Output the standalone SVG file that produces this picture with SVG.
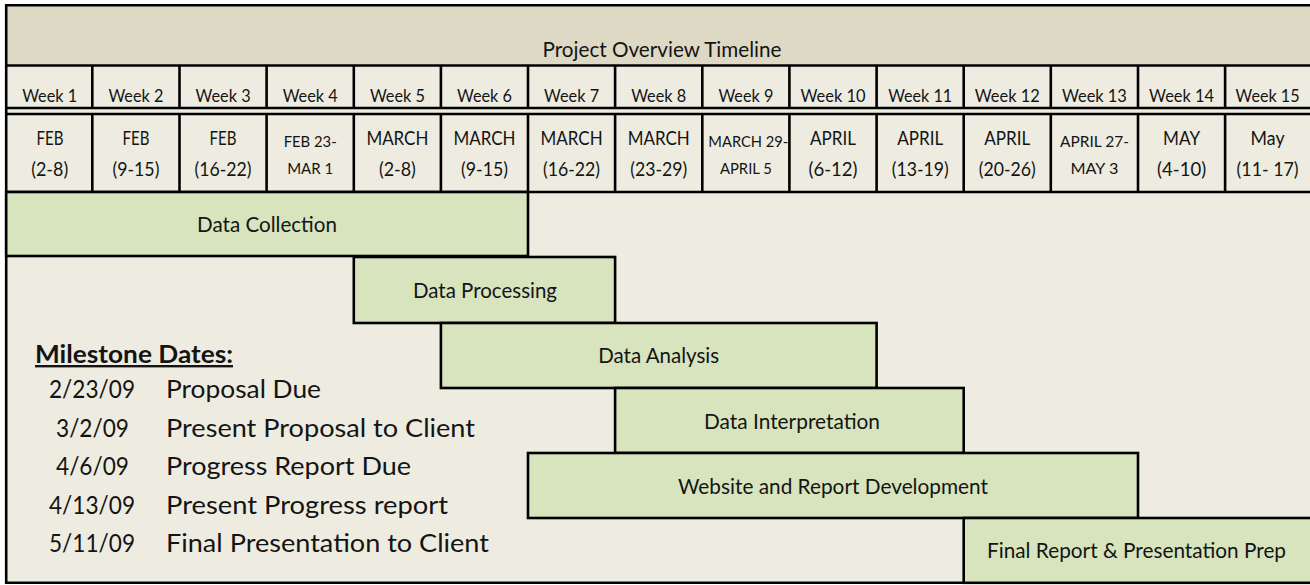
<svg xmlns="http://www.w3.org/2000/svg" width="1310" height="585" viewBox="0 0 1310 585">
<style>
.bg{fill:#EEECE1}
.hdr{fill:#DDD9C4}
.bar{fill:#D7E4BD;stroke:#000;stroke-width:2.6}
.ln{stroke:#000;stroke-width:2.6;fill:none}
text{font-family:Lato,"Open Sans","Liberation Sans",sans-serif;fill:#141414}
.c{text-anchor:middle}
.wk{font-size:17.5px}
.dt{font-size:19.5px}
.ds{font-size:16px}
.bt{font-size:22px}
.ms{font-size:24.5px}
</style>
<rect class="bg" x="6" y="5" width="1304" height="578"/>
<g id="header">
<rect class="hdr" x="6" y="5" width="1304" height="60.5"/>
<text class="c" x="662" y="56.5" font-size="21.5" textLength="239" lengthAdjust="spacingAndGlyphs">Project Overview Timeline</text>
</g>
<g id="grid">
<line class="ln" x1="5" y1="5.3" x2="1310" y2="5.3"/>
<line class="ln" x1="6.2" y1="4" x2="6.2" y2="584"/>
<line class="ln" x1="5" y1="582.8" x2="1310" y2="582.8"/>
<line class="ln" x1="6" y1="65.5" x2="1310" y2="65.5"/>
<line class="ln" x1="6" y1="108" x2="1310" y2="108"/>
<line class="ln" x1="6" y1="114" x2="1310" y2="114"/>
<line class="ln" x1="6" y1="192" x2="1310" y2="192"/>
<path class="ln" d="M92.3 65.5V108M179.5 65.5V108M266.6 65.5V108M353.8 65.5V108M440.9 65.5V108M528 65.5V108M615.1 65.5V108M702.3 65.5V108M789.4 65.5V108M876.6 65.5V108M963.7 65.5V108M1050.8 65.5V108M1138 65.5V108M1225.1 65.5V108"/>
<path class="ln" d="M92.3 114V192M179.5 114V192M266.6 114V192M353.8 114V192M440.9 114V192M528 114V192M615.1 114V192M702.3 114V192M789.4 114V192M876.6 114V192M963.7 114V192M1050.8 114V192M1138 114V192M1225.1 114V192"/>
</g>
<g id="weeks" class="wk">
<text class="c" x="49.7" y="101.5" textLength="55" lengthAdjust="spacingAndGlyphs">Week 1</text>
<text class="c" x="135.9" y="101.5" textLength="55" lengthAdjust="spacingAndGlyphs">Week 2</text>
<text class="c" x="223.1" y="101.5" textLength="55" lengthAdjust="spacingAndGlyphs">Week 3</text>
<text class="c" x="310.2" y="101.5" textLength="55" lengthAdjust="spacingAndGlyphs">Week 4</text>
<text class="c" x="397.4" y="101.5" textLength="55" lengthAdjust="spacingAndGlyphs">Week 5</text>
<text class="c" x="484.5" y="101.5" textLength="55" lengthAdjust="spacingAndGlyphs">Week 6</text>
<text class="c" x="571.6" y="101.5" textLength="55" lengthAdjust="spacingAndGlyphs">Week 7</text>
<text class="c" x="658.7" y="101.5" textLength="55" lengthAdjust="spacingAndGlyphs">Week 8</text>
<text class="c" x="745.9" y="101.5" textLength="55" lengthAdjust="spacingAndGlyphs">Week 9</text>
<text class="c" x="833" y="101.5" textLength="65" lengthAdjust="spacingAndGlyphs">Week 10</text>
<text class="c" x="920.2" y="101.5" textLength="64" lengthAdjust="spacingAndGlyphs">Week 11</text>
<text class="c" x="1007.3" y="101.5" textLength="65" lengthAdjust="spacingAndGlyphs">Week 12</text>
<text class="c" x="1094.4" y="101.5" textLength="65" lengthAdjust="spacingAndGlyphs">Week 13</text>
<text class="c" x="1181.6" y="101.5" textLength="65" lengthAdjust="spacingAndGlyphs">Week 14</text>
<text class="c" x="1267.6" y="101.5" textLength="64" lengthAdjust="spacingAndGlyphs">Week 15</text>
</g>
<g id="dates">
<text class="c dt" x="50" y="144.5" textLength="27" lengthAdjust="spacingAndGlyphs">FEB</text><text class="c dt" x="49.7" y="175.5" textLength="37" lengthAdjust="spacingAndGlyphs">(2-8)</text>
<text class="c dt" x="135.9" y="144.5" textLength="27" lengthAdjust="spacingAndGlyphs">FEB</text><text class="c dt" x="135.9" y="175.5" textLength="47" lengthAdjust="spacingAndGlyphs">(9-15)</text>
<text class="c dt" x="223.1" y="144.5" textLength="27" lengthAdjust="spacingAndGlyphs">FEB</text><text class="c dt" x="223.1" y="175.5" textLength="57" lengthAdjust="spacingAndGlyphs">(16-22)</text>
<text class="c ds" x="310.2" y="146.5" textLength="53" lengthAdjust="spacingAndGlyphs">FEB 23-</text><text class="c ds" x="310.2" y="173.5" textLength="46" lengthAdjust="spacingAndGlyphs">MAR 1</text>
<text class="c dt" x="397.4" y="144.5" textLength="62" lengthAdjust="spacingAndGlyphs">MARCH</text><text class="c dt" x="397.4" y="175.5" textLength="37" lengthAdjust="spacingAndGlyphs">(2-8)</text>
<text class="c dt" x="484.5" y="144.5" textLength="62" lengthAdjust="spacingAndGlyphs">MARCH</text><text class="c dt" x="484.5" y="175.5" textLength="47" lengthAdjust="spacingAndGlyphs">(9-15)</text>
<text class="c dt" x="571.6" y="144.5" textLength="62" lengthAdjust="spacingAndGlyphs">MARCH</text><text class="c dt" x="571.6" y="175.5" textLength="57" lengthAdjust="spacingAndGlyphs">(16-22)</text>
<text class="c dt" x="658.7" y="144.5" textLength="62" lengthAdjust="spacingAndGlyphs">MARCH</text><text class="c dt" x="658.7" y="175.5" textLength="57" lengthAdjust="spacingAndGlyphs">(23-29)</text>
<text class="c ds" x="748.3" y="146.5" textLength="80" lengthAdjust="spacingAndGlyphs">MARCH 29-</text><text class="c ds" x="745.9" y="173.5" textLength="52" lengthAdjust="spacingAndGlyphs">APRIL 5</text>
<text class="c dt" x="833" y="144.5" textLength="46" lengthAdjust="spacingAndGlyphs">APRIL</text><text class="c dt" x="833" y="175.5" textLength="49" lengthAdjust="spacingAndGlyphs">(6-12)</text>
<text class="c dt" x="920.2" y="144.5" textLength="46" lengthAdjust="spacingAndGlyphs">APRIL</text><text class="c dt" x="920.2" y="175.5" textLength="57" lengthAdjust="spacingAndGlyphs">(13-19)</text>
<text class="c dt" x="1007.3" y="144.5" textLength="46" lengthAdjust="spacingAndGlyphs">APRIL</text><text class="c dt" x="1007.3" y="175.5" textLength="57" lengthAdjust="spacingAndGlyphs">(20-26)</text>
<text class="c ds" x="1094.4" y="146.5" textLength="69" lengthAdjust="spacingAndGlyphs">APRIL 27-</text><text class="c ds" x="1094.4" y="173.5" textLength="48" lengthAdjust="spacingAndGlyphs">MAY 3</text>
<text class="c dt" x="1181.6" y="144.5" textLength="37" lengthAdjust="spacingAndGlyphs">MAY</text><text class="c dt" x="1181.6" y="175.5" textLength="49" lengthAdjust="spacingAndGlyphs">(4-10)</text>
<text class="c dt" x="1267.6" y="144.5" textLength="34" lengthAdjust="spacingAndGlyphs">May</text><text class="c dt" x="1267.6" y="175.5" textLength="62" lengthAdjust="spacingAndGlyphs">(11- 17)</text>
</g>
<g id="data-collection">
<rect class="bar" x="6.2" y="192" width="521.8" height="64"/>
<text class="c bt" x="267" y="231.5" textLength="140" lengthAdjust="spacingAndGlyphs">Data Collection</text>
</g>
<g id="data-processing">
<rect class="bar" x="353.8" y="257" width="261.3" height="66"/>
<text class="c bt" x="485" y="297.5" textLength="144" lengthAdjust="spacingAndGlyphs">Data Processing</text>
</g>
<g id="data-analysis">
<rect class="bar" x="440.9" y="323" width="435.7" height="65"/>
<text class="c bt" x="658.7" y="363" textLength="121" lengthAdjust="spacingAndGlyphs">Data Analysis</text>
</g>
<g id="data-interpretation">
<rect class="bar" x="615.1" y="388" width="348.6" height="65"/>
<text class="c bt" x="792" y="428.5" textLength="176" lengthAdjust="spacingAndGlyphs">Data Interpretation</text>
</g>
<g id="website-report-development">
<rect class="bar" x="528" y="453" width="610" height="65"/>
<text class="c bt" x="833" y="493.5" textLength="310" lengthAdjust="spacingAndGlyphs">Website and Report Development</text>
</g>
<g id="final-report">
<rect class="bar" x="963.7" y="518" width="350" height="64.8"/>
<text class="c bt" x="1136.5" y="558" textLength="299" lengthAdjust="spacingAndGlyphs">Final Report &amp; Presentation Prep</text>
</g>
<g id="milestones">
<text x="35" y="363" font-size="24" font-weight="bold" text-decoration="underline" textLength="198" lengthAdjust="spacingAndGlyphs">Milestone Dates:</text>
<text class="c ms" x="92" y="398" textLength="86" lengthAdjust="spacingAndGlyphs">2/23/09</text><text class="ms" x="166" y="398" textLength="155" lengthAdjust="spacingAndGlyphs">Proposal Due</text>
<text class="c ms" x="92.5" y="437" textLength="73" lengthAdjust="spacingAndGlyphs">3/2/09</text><text class="ms" x="166" y="437" textLength="309" lengthAdjust="spacingAndGlyphs">Present Proposal to Client</text>
<text class="c ms" x="92.5" y="475" textLength="73" lengthAdjust="spacingAndGlyphs">4/6/09</text><text class="ms" x="166" y="475" textLength="245" lengthAdjust="spacingAndGlyphs">Progress Report Due</text>
<text class="c ms" x="92" y="513.5" textLength="86" lengthAdjust="spacingAndGlyphs">4/13/09</text><text class="ms" x="166" y="513.5" textLength="282" lengthAdjust="spacingAndGlyphs">Present Progress report</text>
<text class="c ms" x="92" y="552" textLength="86" lengthAdjust="spacingAndGlyphs">5/11/09</text><text class="ms" x="166" y="552" textLength="323" lengthAdjust="spacingAndGlyphs">Final Presentation to Client</text>
</g>
</svg>
